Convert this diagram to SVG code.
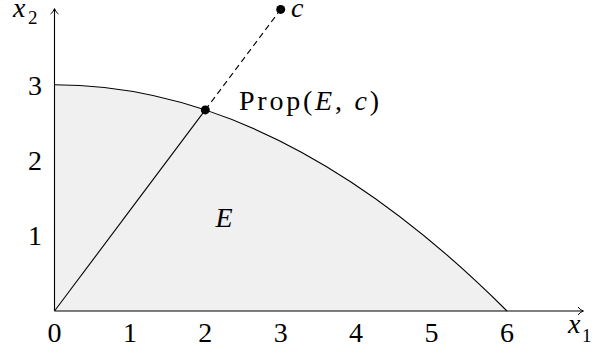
<svg xmlns="http://www.w3.org/2000/svg" width="596" height="353" viewBox="0 0 596 353">
<defs>
<marker id="arr" markerWidth="10" markerHeight="10" refX="8" refY="5" orient="auto" markerUnits="userSpaceOnUse">
<path d="M3,1 Q5,4 8.5,5 Q5,6 3,9" fill="none" stroke="#000" stroke-width="1"/>
</marker>
</defs>
<rect width="596" height="353" fill="#fff"/>
<g id="region">
<path d="M54.5 311 L54.5 84.8 Q280.7 84.8 507 311 Z" fill="#f0f0f0" stroke="none"/>
<path d="M54.5 84.8 Q280.7 84.8 507 311" stroke="#000" stroke-width="1.1" fill="none"/>
<text x="224" y="227" font-family="Times New Roman, Liberation Serif, serif" font-size="28" font-style="italic" text-anchor="middle">E</text>
</g>
<g id="axes" font-family="Times New Roman, Liberation Serif, serif" font-size="28">
<line x1="54.5" y1="311" x2="583" y2="311" stroke="#000" stroke-width="1.1" marker-end="url(#arr)"/>
<line x1="54.5" y1="311" x2="54.5" y2="9" stroke="#000" stroke-width="1.1" marker-end="url(#arr)"/>
<text x="54.5" y="342" text-anchor="middle">0</text>
<text x="129.9" y="342" text-anchor="middle">1</text>
<text x="205.3" y="342" text-anchor="middle">2</text>
<text x="280.7" y="342" text-anchor="middle">3</text>
<text x="356.1" y="342" text-anchor="middle">4</text>
<text x="431.5" y="342" text-anchor="middle">5</text>
<text x="506.9" y="342" text-anchor="middle">6</text>
<text x="35" y="245" text-anchor="middle">1</text>
<text x="35" y="170" text-anchor="middle">2</text>
<text x="35" y="95" text-anchor="middle">3</text>
<text x="568" y="333" font-style="italic">x</text>
<text x="582" y="342" font-size="19">1</text>
<text x="13" y="17" font-style="italic">x</text>
<text x="28" y="24" font-size="19">2</text>
</g>
<g id="connectors">
<line x1="54.5" y1="311" x2="205.3" y2="109.9" stroke="#000" stroke-width="1.1"/>
<line x1="205.3" y1="109.9" x2="280.7" y2="9.4" stroke="#000" stroke-width="1.1" stroke-dasharray="6 4"/>
</g>
<g id="prop">
<circle cx="205.3" cy="109.9" r="4.5" fill="#000"/>
<text x="239" y="110" font-family="Times New Roman, Liberation Serif, serif" font-size="28" textLength="140" lengthAdjust="spacing">Prop(<tspan font-style="italic">E</tspan>, <tspan font-style="italic">c</tspan>)</text>
</g>
<g id="c">
<circle cx="280.7" cy="9.4" r="4.5" fill="#000"/>
<text x="291" y="17" font-family="Times New Roman, Liberation Serif, serif" font-size="28" font-style="italic">c</text>
</g>
</svg>
